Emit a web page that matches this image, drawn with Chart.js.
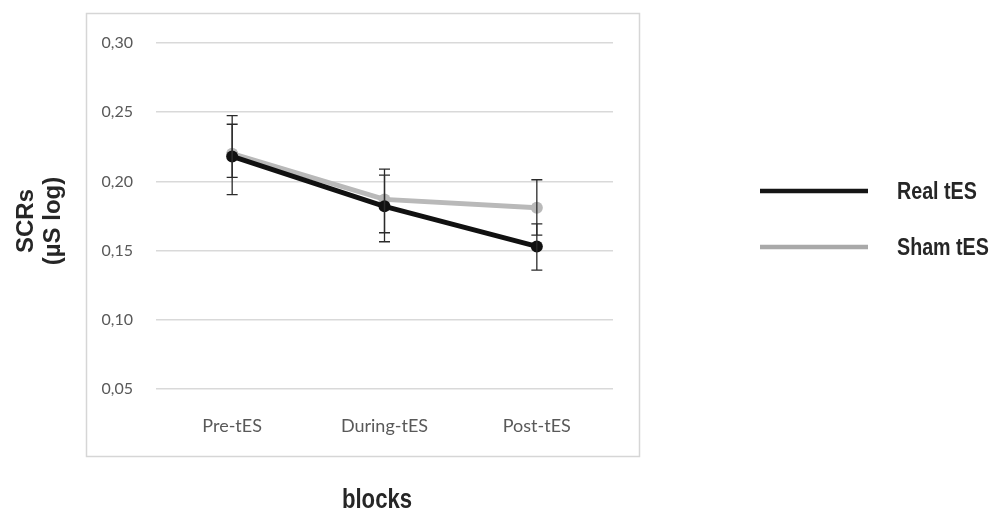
<!DOCTYPE html>
<html>
<head>
<meta charset="utf-8">
<script src="https://cdn.jsdelivr.net/npm/chart.js@4/dist/chart.umd.min.js"></script>
<style>
  html, body { margin: 0; padding: 0; background: #fff; }
  #wrap { width: 1006px; height: 515px; }
</style>
</head>
<body>
<div id="wrap"><canvas id="c" width="1006" height="515"></canvas></div>
<script>
// Skin conductance responses per block (log µS)
const categories = ['Pre-tES', 'During-tES', 'Post-tES'];
const realMeans  = [0.218, 0.182, 0.153];
const shamMeans  = [0.220, 0.187, 0.181];
// error bar ends
const realUpper  = [0.2475, 0.2046, 0.1693];
const realLower  = [0.1904, 0.1564, 0.1359];
const shamUpper  = [0.2413, 0.2089, 0.2012];
const shamLower  = [0.2029, 0.1629, 0.1612];
const seriesNames = ['Real tES', 'Sham tES'];
const yMin = 0.05, yMax = 0.30, yStep = 0.05;
const xTitle = 'blocks';
const yTitle = ['SCRs', '(µS log)'];

const NARROW = 0.82; // horizontal squeeze for condensed bold captions

// use a narrow face for tick labels when one is installed
function hasFont(name) {
  const cx = document.createElement('canvas').getContext('2d');
  const probe = 'During-tES 0,30 mmmwwwiii';
  cx.font = '40px monospace';
  const a = cx.measureText(probe).width;
  cx.font = '40px "' + name + '", monospace';
  const b = cx.measureText(probe).width;
  return Math.abs(a - b) > 0.5;
}
const narrowTicks = hasFont('Liberation Sans Narrow');
const tickFamily = narrowTicks ? '"Liberation Sans Narrow", Lato, sans-serif' : 'Lato, "Open Sans", sans-serif';
const yTickSize = narrowTicks ? 19 : 16;
const xTickSize = narrowTicks ? 21 : 18;

function narrowText(ctx, text, x, y, size, align) {
  ctx.save();
  ctx.font = 'bold ' + size + 'px "Liberation Sans", Arial, sans-serif';
  const w = ctx.measureText(text).width * NARROW;
  let x0 = x;
  if (align === 'center') x0 = x - w / 2;
  ctx.translate(x0, y);
  ctx.scale(NARROW, 1);
  ctx.textAlign = 'left';
  ctx.textBaseline = 'alphabetic';
  ctx.fillText(text, 0, 0);
  ctx.restore();
}

const frame = {
  id: 'frame',
  beforeDraw(chart) {
    const ctx = chart.ctx;
    ctx.save();
    ctx.fillStyle = '#fff';
    ctx.fillRect(0, 0, chart.width, chart.height);
    ctx.strokeStyle = '#d6d6d6';
    ctx.lineWidth = 1.5;
    ctx.strokeRect(86.5, 13.5, 553, 443);
    ctx.restore();
  }
};

const errorBars = {
  id: 'errorBars',
  afterDatasetsDraw(chart) {
    const ctx = chart.ctx;
    const ys = chart.scales.y;
    const ends = [[realUpper, realLower], [shamUpper, shamLower]];
    ctx.save();
    ctx.strokeStyle = '#2b2b2b';
    ctx.lineWidth = 1.3;
    chart.data.datasets.forEach((ds, di) => {
      const meta = chart.getDatasetMeta(di);
      const [up, lo] = ends[di];
      meta.data.forEach((pt, i) => {
        const x = pt.x;
        const yU = ys.getPixelForValue(up[i]);
        const yL = ys.getPixelForValue(lo[i]);
        ctx.beginPath();
        ctx.moveTo(x, yU); ctx.lineTo(x, yL);
        ctx.moveTo(x - 5.5, yU); ctx.lineTo(x + 5.5, yU);
        ctx.moveTo(x - 5.5, yL); ctx.lineTo(x + 5.5, yL);
        ctx.stroke();
      });
    });
    ctx.restore();
  }
};

const captions = {
  id: 'captions',
  afterDraw(chart) {
    const ctx = chart.ctx;
    ctx.save();
    ctx.fillStyle = '#262626';
    // legend
    const rows = [191, 247];
    const baselines = [199, 255];
    chart.data.datasets.forEach((ds, i) => {
      ctx.strokeStyle = i === 0 ? '#151515' : '#a9a9a9';
      ctx.lineWidth = 4.5;
      ctx.lineCap = 'butt';
      ctx.beginPath();
      ctx.moveTo(760, rows[i]);
      ctx.lineTo(868, rows[i]);
      ctx.stroke();
      narrowText(ctx, ds.label, 897, baselines[i], 24, 'left');
    });
    // x axis title
    narrowText(ctx, xTitle, 377, 508, 27, 'center');
    // y axis title
    ctx.font = 'bold 24px "Liberation Sans", Arial, sans-serif';
    ctx.textAlign = 'center';
    ctx.textBaseline = 'middle';
    [26, 53].forEach((x, i) => {
      ctx.save();
      ctx.translate(x, 221);
      ctx.rotate(-Math.PI / 2);
      ctx.fillText(yTitle[i], 0, 0);
      ctx.restore();
    });
    ctx.restore();
  }
};

new Chart(document.getElementById('c'), {
  type: 'line',
  data: {
    labels: categories,
    datasets: [
      {
        label: seriesNames[0],
        data: realMeans,
        borderColor: '#111111',
        backgroundColor: '#111111',
        borderWidth: 5,
        pointRadius: 6,
        pointBorderWidth: 0,
        pointBackgroundColor: '#111111',
        tension: 0
      },
      {
        label: seriesNames[1],
        data: shamMeans,
        borderColor: '#b9b9b9',
        backgroundColor: '#b9b9b9',
        borderWidth: 5,
        pointRadius: 6,
        pointBorderWidth: 0,
        pointBackgroundColor: '#b9b9b9',
        tension: 0
      }
    ]
  },
  options: {
    responsive: false,
    animation: false,
    devicePixelRatio: 1,
    layout: { padding: { left: 86, right: 393, top: 43, bottom: 59 } },
    plugins: {
      legend: { display: false },
      tooltip: { enabled: false },
      title: { display: false }
    },
    scales: {
      x: {
        type: 'category',
        offset: true,
        grid: { display: false, drawTicks: false },
        border: { display: false },
        ticks: {
          padding: 26,
          color: '#595959',
          font: { family: tickFamily, size: xTickSize }
        },
        afterFit(s) { s.height = 67; }
      },
      y: {
        min: yMin,
        max: yMax,
        grid: { color: '#d9d9d9', lineWidth: 1.5, drawTicks: false },
        border: { display: false },
        ticks: {
          stepSize: yStep,
          padding: 23,
          color: '#595959',
          font: { family: tickFamily, size: yTickSize },
          callback: v => v.toFixed(2).replace('.', ',')
        },
        afterFit(s) { s.width = 70; }
      }
    }
  },
  plugins: [frame, errorBars, captions]
});
</script>
</body>
</html>
